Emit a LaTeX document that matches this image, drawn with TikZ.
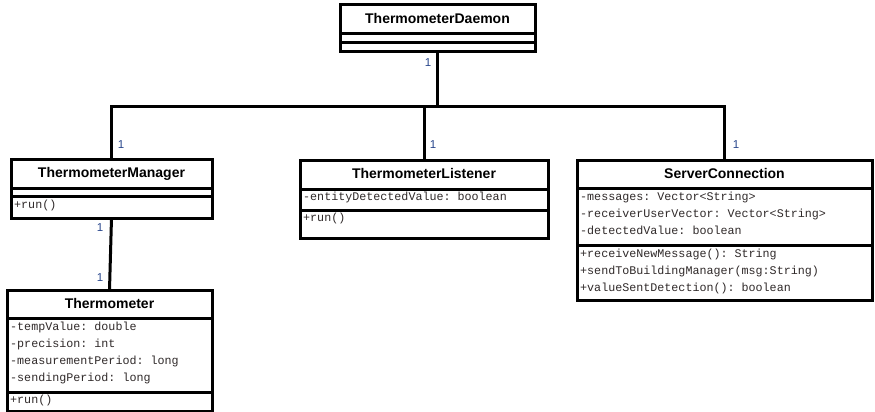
\documentclass[tikz,border=0pt]{standalone}
\usepackage{fontspec}
\setmainfont{Liberation Sans}
\newfontfamily\memberfont{Liberation Mono}
\definecolor{membertext}{RGB}{48,42,42}
\definecolor{multblue}{RGB}{40,70,140}

% one attribute / operation line per node, 17pt apart
\newcommand{\classmembers}[4]{%
  \foreach \txt [count=\i] in {#4}
    \node[member] (#1-\i) at ({#2},{#3+17*(\i-1)}) {\txt};%
}

\begin{document}
\frenchspacing
\begin{tikzpicture}[x=1pt,y=-1pt,
  classbox/.style={draw, line width=3pt, inner sep=0pt, outer sep=0pt,
                   anchor=north west, fill=white},
  sepline/.style={line width=3pt},
  title/.style={font=\bfseries\fontsize{14}{16}\selectfont, anchor=base, inner sep=0pt},
  member/.style={font=\memberfont\fontsize{11.7}{13}\selectfont, text=membertext,
                 anchor=base west, inner sep=0pt},
  mult/.style={font=\fontsize{11.5}{12}\selectfont, text=multblue, inner sep=0pt},
  assoc/.style={line width=3pt}]

\useasboundingbox (0,0) rectangle (875,412);
\fill[white] (0,0) rectangle (875,412);

% ---------- ThermometerDaemon ----------
\node[classbox, minimum width=195pt, minimum height=47pt] (daemon) at (340,5) {};
\node[title] (daemon-t) at (437.5,24) {ThermometerDaemon};
\draw[sepline] (340,34) -- (535,34);
\draw[sepline] (340,43) -- (535,43);

% ---------- ThermometerManager ----------
\node[classbox, minimum width=201pt, minimum height=59pt] (manager) at (11,159) {};
\node[title] (manager-t) at (111.5,177) {ThermometerManager};
\draw[sepline] (11,188) -- (212,188);
\draw[sepline] (11,196.5) -- (212,196.5);
\classmembers{managerop}{14}{208}{+run()}

% ---------- ThermometerListener ----------
\node[classbox, minimum width=248pt, minimum height=78pt] (listener) at (300,160) {};
\node[title] (listener-t) at (424,178) {ThermometerListener};
\draw[sepline] (300,189) -- (548,189);
\draw[sepline] (300,210) -- (548,210);
\classmembers{listenerattr}{303}{200.5}{-entityDetectedValue: boolean}
\classmembers{listenerop}{303}{221}{+run()}

% ---------- ServerConnection ----------
\node[classbox, minimum width=295pt, minimum height=140pt] (server) at (577,160) {};
\node[title] (server-t) at (724.5,178) {ServerConnection};
\draw[sepline] (577,188) -- (872,188);
\draw[sepline] (577,245) -- (872,245);
\classmembers{serverattr}{580}{200}{-messages: Vector<String>,-receiverUserVector: Vector<String>,-detectedValue: boolean}
\classmembers{serverop}{580}{257}{+receiveNewMessage(): String,+sendToBuildingManager(msg:String),+valueSentDetection(): boolean}

% ---------- Thermometer ----------
\node[classbox, minimum width=205pt, minimum height=121pt] (thermo) at (7,290) {};
\node[title] (thermo-t) at (109.5,308) {Thermometer};
\draw[sepline] (7,318) -- (212,318);
\draw[sepline] (7,392) -- (212,392);
\classmembers{thermoattr}{10}{330}{-tempValue: double,-precision: int,-measurementPeriod: long,-sendingPeriod: long}
\classmembers{thermoop}{10}{403}{+run()}

% ---------- associations ----------
\coordinate (bus) at (437.5,106);
\draw[assoc] (daemon.south) -- (bus) -| (manager.north);
\draw[assoc] (bus) -| (listener.north);
\draw[assoc] (bus) -| (server.north);
\draw[assoc] (manager.south) -- (thermo.north);

% ---------- multiplicities ----------
\node[mult] (m-daemon)   at (428,63)  {1};
\node[mult] (m-manager)  at (121,145) {1};
\node[mult] (m-listener) at (433,145) {1};
\node[mult] (m-server)   at (736,145) {1};
\node[mult] (m-mgr-low)  at (100,228) {1};
\node[mult] (m-thermo)   at (100,278) {1};

\end{tikzpicture}
\end{document}
